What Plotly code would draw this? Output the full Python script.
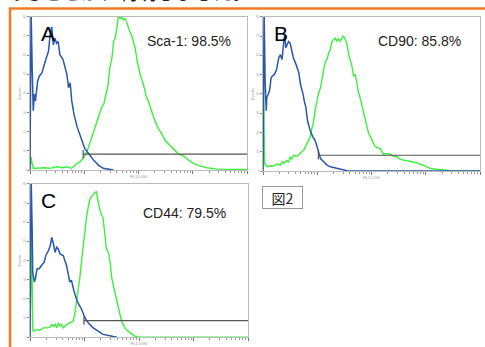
import math
import plotly.graph_objects as go

W, H = 485, 347

# ---------- data (x = log10 FL1, y = events) ----------
a_blue_x = [0.00, 0.02, 0.04, 0.06, 0.08, 0.10, 0.14, 0.17, 0.22, 0.26, 0.29, 0.34, 0.37, 0.40, 0.43, 0.46, 0.49, 0.52, 0.55, 0.61, 0.68, 0.71, 0.74, 0.77, 0.81, 0.87, 0.95, 1.01, 1.08, 1.17, 1.26, 1.35, 1.54]
a_blue_y = [0, 84, 53.3, 31.0, 39.6, 36.1, 46.4, 49.0, 50.7, 55.0, 57.6, 61.9, 70.5, 74.8, 65.4, 68.8, 66.2, 67.1, 60.2, 57.6, 49.9, 43.0, 45.6, 36.1, 29.2, 22.4, 15.5, 11.2, 8.6, 5.2, 2.6, 0.9, 0]
a_green_x = [0.00, 0.02, 0.04, 0.06, 0.12, 0.25, 0.37, 0.49, 0.61, 0.68, 0.77, 0.83, 0.86, 0.92, 0.98, 1.03, 1.08, 1.14, 1.20, 1.26, 1.32, 1.36, 1.40, 1.44, 1.47, 1.51, 1.54, 1.57, 1.60, 1.63, 1.66, 1.69, 1.72, 1.75, 1.78, 1.81, 1.84, 1.87, 1.90, 1.94, 1.97, 2.00, 2.03, 2.06, 2.09, 2.15, 2.18, 2.24, 2.30, 2.37, 2.43, 2.49, 2.55, 2.61, 2.67, 2.73, 2.80, 2.86, 2.92, 2.98, 3.04, 3.13, 3.26, 3.44, 3.75, 4.00]
a_green_y = [0, 6.9, 3.4, 0.9, 0.9, 1.2, 0.9, 1.7, 1.2, 1.7, 0.9, 2.6, 3.4, 4.3, 6.0, 8.6, 12.0, 17.2, 22.4, 27.5, 32.7, 34.4, 39.6, 44.7, 53.3, 58.5, 67.1, 68.8, 74.0, 80.5, 79.1, 80.5, 78.3, 79.1, 77.4, 74.0, 72.2, 70.5, 67.1, 63.6, 57.6, 53.3, 49.9, 47.3, 44.7, 37.8, 36.1, 31.0, 25.8, 21.5, 18.9, 15.5, 13.8, 12.0, 10.3, 8.6, 7.7, 6.9, 5.2, 4.0, 3.1, 2.2, 1.2, 0.5, 0.3, 0.3]

b_blue_x = [0.00, 0.02, 0.04, 0.06, 0.07, 0.09, 0.12, 0.15, 0.17, 0.21, 0.25, 0.29, 0.32, 0.35, 0.38, 0.40, 0.42, 0.44, 0.47, 0.50, 0.53, 0.56, 0.61, 0.66, 0.69, 0.72, 0.74, 0.76, 0.79, 0.82, 0.87, 0.92, 0.96, 0.99, 1.02, 1.06, 1.12, 1.18, 1.24, 1.36, 1.55, 1.73, 4.00]
b_blue_y = [0, 84, 45.0, 31.3, 38.1, 39.8, 41.6, 48.4, 49.2, 50.1, 52.7, 58.7, 60.4, 57.8, 68.9, 71.5, 63.8, 65.5, 67.2, 66.3, 62.1, 58.7, 55.2, 51.0, 45.0, 42.4, 39.8, 36.4, 33.0, 26.2, 21.0, 17.6, 15.9, 13.3, 9.9, 6.5, 4.8, 3.1, 2.2, 1.4, 0.2, 0, 0]
b_green_x = [0.00, 0.01, 0.03, 0.07, 0.13, 0.20, 0.26, 0.32, 0.35, 0.38, 0.44, 0.47, 0.50, 0.53, 0.56, 0.63, 0.69, 0.75, 0.81, 0.87, 0.90, 0.93, 0.96, 0.99, 1.02, 1.06, 1.09, 1.12, 1.15, 1.18, 1.21, 1.24, 1.27, 1.30, 1.33, 1.36, 1.39, 1.42, 1.45, 1.48, 1.52, 1.55, 1.58, 1.61, 1.64, 1.67, 1.70, 1.73, 1.76, 1.79, 1.85, 1.91, 1.94, 2.01, 2.07, 2.16, 2.22, 2.28, 2.34, 2.40, 2.47, 2.53, 2.59, 2.65, 2.71, 2.77, 2.83, 2.90, 2.96, 3.02, 3.08, 3.20, 3.33, 3.45, 4.00]
b_green_y = [0, 45.0, 3.9, 2.2, 2.7, 2.6, 3.6, 3.1, 4.8, 3.9, 5.6, 4.4, 7.4, 6.0, 8.2, 7.7, 9.4, 10.8, 14.2, 17.6, 21.9, 25.3, 31.3, 36.4, 39.8, 43.3, 49.2, 52.7, 56.9, 57.8, 61.2, 62.9, 67.2, 68.1, 68.9, 67.5, 68.6, 67.2, 68.9, 70.1, 68.1, 65.5, 60.4, 57.8, 54.4, 49.2, 50.1, 45.8, 40.7, 38.1, 31.3, 24.5, 20.2, 15.9, 12.5, 11.6, 8.7, 9.1, 8.7, 7.7, 7.4, 6.0, 5.6, 5.1, 4.8, 4.4, 4.3, 3.4, 3.1, 2.2, 1.4, 0.9, 0.5, 0.2, 0]

c_blue_x = [0.00, 0.02, 0.04, 0.05, 0.08, 0.10, 0.13, 0.17, 0.21, 0.26, 0.29, 0.34, 0.37, 0.40, 0.43, 0.46, 0.49, 0.52, 0.55, 0.61, 0.67, 0.70, 0.73, 0.76, 0.81, 0.87, 0.95, 1.01, 1.07, 1.16, 1.25, 1.34, 1.53, 1.59]
c_blue_y = [0, 84, 56.3, 34.0, 28.8, 30.6, 35.7, 35.7, 37.4, 39.1, 42.6, 45.2, 47.7, 52.0, 48.6, 44.3, 46.9, 46.0, 43.4, 42.6, 37.4, 32.3, 28.8, 29.7, 23.7, 18.5, 14.3, 10.0, 7.4, 4.8, 3.1, 1.4, 0.3, 0]
c_green_x = [0.00, 0.03, 0.05, 0.06, 0.12, 0.18, 0.24, 0.31, 0.37, 0.40, 0.43, 0.46, 0.49, 0.52, 0.55, 0.58, 0.61, 0.64, 0.67, 0.73, 0.79, 0.82, 0.85, 0.89, 0.92, 0.95, 0.98, 1.01, 1.04, 1.07, 1.10, 1.13, 1.16, 1.19, 1.22, 1.24, 1.26, 1.28, 1.31, 1.34, 1.37, 1.40, 1.44, 1.47, 1.50, 1.53, 1.56, 1.59, 1.62, 1.65, 1.68, 1.71, 1.74, 1.80, 1.86, 1.92, 2.02, 4.00]
c_green_y = [0, 52.9, 4.8, 3.1, 3.9, 3.6, 4.8, 4.8, 5.2, 6.5, 5.7, 6.9, 4.8, 7.4, 5.7, 6.5, 4.8, 5.7, 6.5, 7.4, 8.2, 11.7, 17.7, 23.7, 32.3, 40.9, 49.4, 56.3, 63.2, 68.3, 71.8, 73.5, 74.3, 75.2, 76.1, 72.6, 68.3, 66.6, 64.0, 62.3, 54.6, 46.0, 44.3, 39.1, 30.6, 27.1, 22.0, 18.5, 15.1, 11.7, 8.2, 6.5, 4.8, 3.1, 1.9, 0.5, 0, 0]

gate_start = [0.98, 1.02, 0.99]
gate_level = [8.3, 8.2, 8.6]
panel_letters = ["A", "B", "C"]
panel_labels = ["Sca-1: 98.5%", "CD90: 85.8%", "CD44: 79.5%"]
y_ticks = [0, 10, 20, 30, 40, 50, 60, 70, 80]
caption = "図2"
top_text = "あることが、判明しました。"

# ---------- layout helpers ----------
def px_x(p):
    return p / W

def px_y(p):
    return 1 - p / H

panels = [
    dict(x=(30, 247), y=(15, 170), lab=(0.935, 0.84)),
    dict(x=(263, 480), y=(15, 171), lab=(0.92, 0.845)),
    dict(x=(30, 248), y=(184, 339), lab=(0.91, 0.81)),
]
series = [
    (a_blue_x, a_blue_y, a_green_x, a_green_y),
    (b_blue_x, b_blue_y, b_green_x, b_green_y),
    (c_blue_x, c_blue_y, c_green_x, c_green_y),
]

BLUE = "#2a57a8"
GREEN = "#3cf03c"
major = [0, 1, 2, 3, 4]
minor = [d + math.log10(k) for d in range(4) for k in range(2, 10)]

fig = go.Figure()
layout = dict(
    width=W, height=H, margin=dict(l=0, r=0, t=0, b=0),
    paper_bgcolor="white", plot_bgcolor="white", showlegend=False,
    font=dict(family="Liberation Sans, Arial, sans-serif", color="black"),
)
annotations = []
shapes = []

for i, (pan, (bx, by, gx, gy)) in enumerate(zip(panels, series)):
    n = "" if i == 0 else str(i + 1)
    xa, ya = "x" + n, "y" + n
    fig.add_trace(go.Scatter(x=gx, y=gy, mode="lines", line=dict(color=GREEN, width=1.4),
                             xaxis=xa, yaxis=ya, hoverinfo="skip"))
    fig.add_trace(go.Scatter(x=bx, y=by, mode="lines", line=dict(color=BLUE, width=1.5),
                             xaxis=xa, yaxis=ya, hoverinfo="skip"))
    gs, gl = gate_start[i], gate_level[i]
    fig.add_trace(go.Scatter(x=[gs, gs, None, gs, 4], y=[gl + 2.2, gl - 2.2, None, gl, gl],
                             mode="lines", line=dict(color="#555555", width=1.2),
                             xaxis=xa, yaxis=ya, hoverinfo="skip"))
    layout["xaxis" + n] = dict(
        domain=[px_x(pan["x"][0]), px_x(pan["x"][1])], range=[0, 4], anchor=ya,
        tickmode="array", tickvals=major, showticklabels=False, ticks="outside",
        ticklen=3, tickcolor="#777", tickwidth=1,
        minor=dict(tickmode="array", tickvals=minor, ticks="outside", ticklen=2, tickcolor="#999"),
        showgrid=False, zeroline=False, showline=True, linecolor="#bbbbbb", linewidth=1, mirror=True,
        title=dict(text="FL1 LOG", font=dict(size=4, color="#888"), standoff=2),
    )
    layout["yaxis" + n] = dict(
        domain=[px_y(pan["y"][1]), px_y(pan["y"][0])], range=[0, 80], anchor=xa,
        tickmode="array", tickvals=y_ticks, ticks="outside", ticklen=2, tickcolor="#888",
        tickfont=dict(size=3, color="#999"),
        showgrid=False, zeroline=False, showline=True, linecolor="#bbbbbb", linewidth=1, mirror=True,
        title=dict(text="Events", font=dict(size=4, color="#999"), standoff=1),
    )
    annotations.append(dict(xref=xa + " domain", yref=ya + " domain", x=0.04, y=0.98,
                            xanchor="left", yanchor="top", showarrow=False,
                            text=panel_letters[i], font=dict(size=21, color="black")))
    annotations.append(dict(xref=xa + " domain", yref=ya + " domain",
                            x=pan["lab"][0], y=pan["lab"][1],
                            xanchor="right", yanchor="middle", showarrow=False,
                            text=panel_labels[i], font=dict(size=14, color="#222")))

# caption box 図2
annotations.append(dict(xref="paper", yref="paper", x=px_x(282.5), y=px_y(198),
                        xanchor="center", yanchor="middle", showarrow=False,
                        text=caption, font=dict(size=14, color="#222",
                                                family="Noto Sans CJK JP"),
                        bordercolor="#999", borderwidth=1, borderpad=1, width=37, height=19))
# cut-off text at the top
annotations.append(dict(xref="paper", yref="paper", x=px_x(3), y=px_y(4.8),
                        xanchor="left", yanchor="bottom", showarrow=False,
                        text=top_text, font=dict(size=19, color="#222", family="Noto Sans CJK JP")))
# orange frame
shapes.append(dict(type="line", xref="paper", yref="paper", x0=px_x(10), x1=px_x(10),
                   y0=px_y(6), y1=-0.05, line=dict(color="#f47a20", width=2.5)))
shapes.append(dict(type="line", xref="paper", yref="paper", x0=px_x(9), x1=1.05,
                   y0=px_y(6.5), y1=px_y(6.5), line=dict(color="#f47a20", width=2.5)))

layout["annotations"] = annotations
layout["shapes"] = shapes
fig.update_layout(**layout)
fig.write_html("out.html", config={"displayModeBar": False},
               post_script="document.body.style.margin='0px';")
